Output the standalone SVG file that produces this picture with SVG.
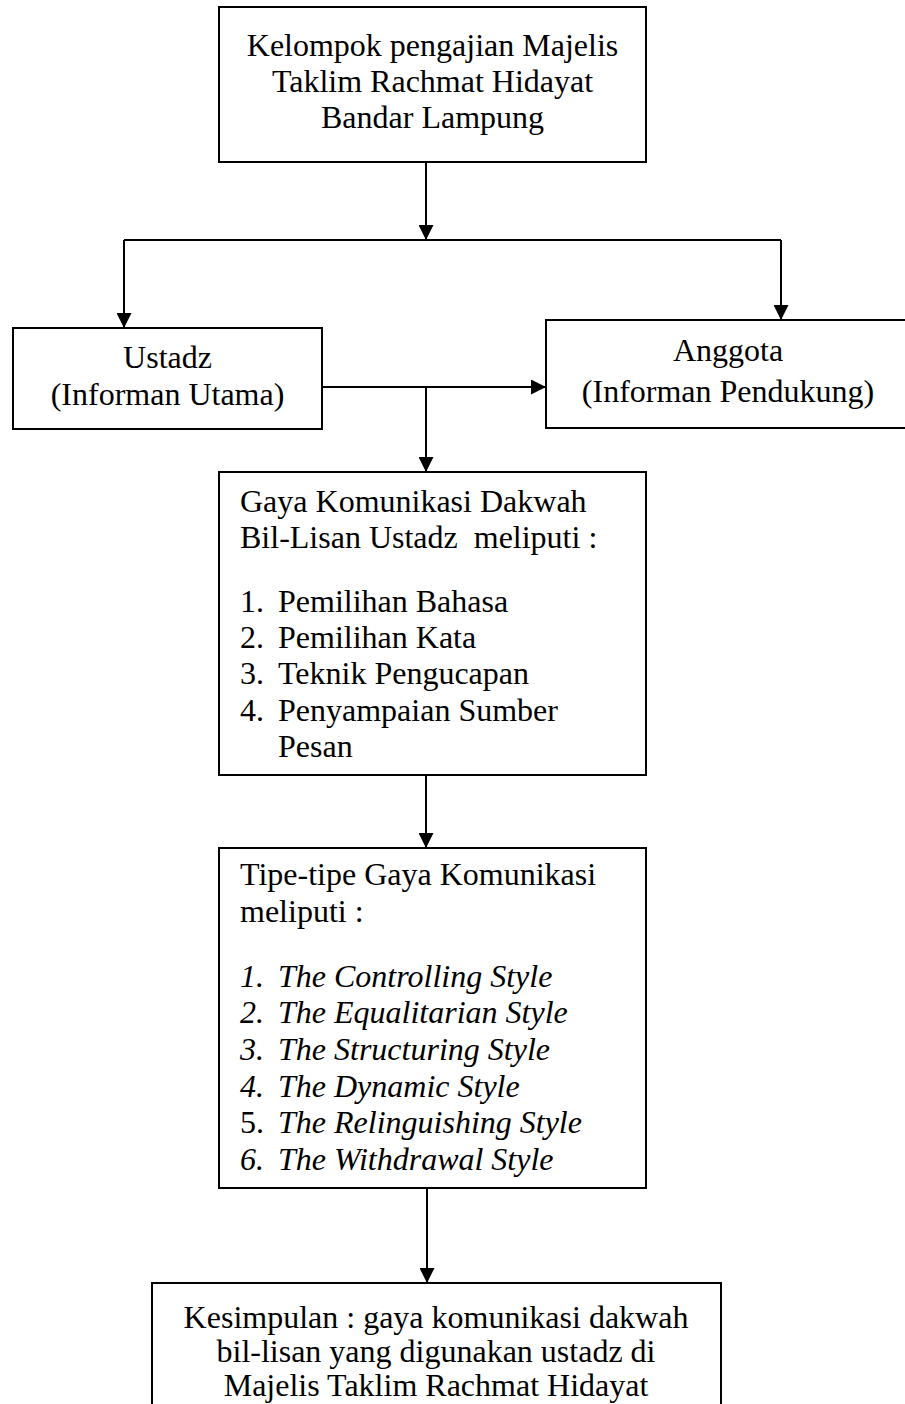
<svg xmlns="http://www.w3.org/2000/svg" width="905" height="1404" viewBox="0 0 905 1404">
<style>
.box{fill:#fff;stroke:#000;stroke-width:2}
.t{font-family:"Liberation Serif","Times New Roman",serif;font-size:32px;fill:#000}
.c{text-anchor:middle}
.i{font-style:italic}
.n{font-style:normal}
.con{fill:none;stroke:#000;stroke-width:2}
</style>
<defs>
<marker id="ah" markerUnits="userSpaceOnUse" markerWidth="15" markerHeight="15" refX="15" refY="7.5" orient="auto">
<path d="M0,0 L15,7.5 L0,15 z" fill="#000"/>
</marker>
</defs>
<rect width="905" height="1404" fill="#fff"/>
<g id="connectors">
<path class="con" d="M426,162 V240" marker-end="url(#ah)"/>
<path class="con" d="M124,240 H781"/>
<path class="con" d="M124,240 V328" marker-end="url(#ah)"/>
<path class="con" d="M781,240 V320" marker-end="url(#ah)"/>
<path class="con" d="M322,387 H546" marker-end="url(#ah)"/>
<path class="con" d="M426,387 V472" marker-end="url(#ah)"/>
<path class="con" d="M426,775 V848" marker-end="url(#ah)"/>
<path class="con" d="M427,1188 V1283" marker-end="url(#ah)"/>
</g>
<g id="node-kelompok">
<rect class="box" x="219" y="7" width="427" height="155"/>
<text class="t c" x="432.5" y="56">Kelompok pengajian Majelis</text>
<text class="t c" x="432.5" y="92">Taklim Rachmat Hidayat</text>
<text class="t c" x="432.5" y="128">Bandar Lampung</text>
</g>
<g id="node-ustadz">
<rect class="box" x="13" y="328" width="309" height="101"/>
<text class="t c" x="167.5" y="368">Ustadz</text>
<text class="t c" x="167.5" y="405">(Informan Utama)</text>
</g>
<g id="node-anggota">
<rect class="box" x="546" y="320" width="364" height="108"/>
<text class="t c" x="728" y="361">Anggota</text>
<text class="t c" x="728" y="402">(Informan Pendukung)</text>
</g>
<g id="node-gaya">
<rect class="box" x="219" y="472" width="427" height="303"/>
<text class="t" x="240" y="512">Gaya Komunikasi Dakwah</text>
<text class="t" x="240" y="548" style="white-space:pre">Bil-Lisan Ustadz  meliputi :</text>
<text class="t" x="240" y="612">1.</text><text class="t" x="278" y="612">Pemilihan Bahasa</text>
<text class="t" x="240" y="648">2.</text><text class="t" x="278" y="648">Pemilihan Kata</text>
<text class="t" x="240" y="684">3.</text><text class="t" x="278" y="684">Teknik Pengucapan</text>
<text class="t" x="240" y="721">4.</text><text class="t" x="278" y="721">Penyampaian Sumber</text>
<text class="t" x="278" y="757">Pesan</text>
</g>
<g id="node-tipe">
<rect class="box" x="219" y="848" width="427" height="340"/>
<text class="t" x="240" y="885">Tipe-tipe Gaya Komunikasi</text>
<text class="t" x="240" y="922">meliputi :</text>
<text class="t i" x="240" y="987">1.</text><text class="t i" x="278" y="987">The Controlling Style</text>
<text class="t i" x="240" y="1023">2.</text><text class="t i" x="278" y="1023">The Equalitarian Style</text>
<text class="t i" x="240" y="1060">3.</text><text class="t i" x="278" y="1060">The Structuring Style</text>
<text class="t i" x="240" y="1097">4.</text><text class="t i" x="278" y="1097">The Dynamic Style</text>
<text class="t" x="240" y="1133">5.</text><text class="t i" x="278" y="1133">The Relinguishing Style</text>
<text class="t i" x="240" y="1170">6.</text><text class="t i" x="278" y="1170">The Withdrawal Style</text>
</g>
<g id="node-kesimpulan">
<path class="box" d="M152,1410 V1283 H721 V1410"/>
<text class="t c" x="436" y="1328">Kesimpulan : gaya komunikasi dakwah</text>
<text class="t c" x="436" y="1362">bil-lisan yang digunakan ustadz di</text>
<text class="t c" x="436" y="1396">Majelis Taklim Rachmat Hidayat</text>
</g>
</svg>
